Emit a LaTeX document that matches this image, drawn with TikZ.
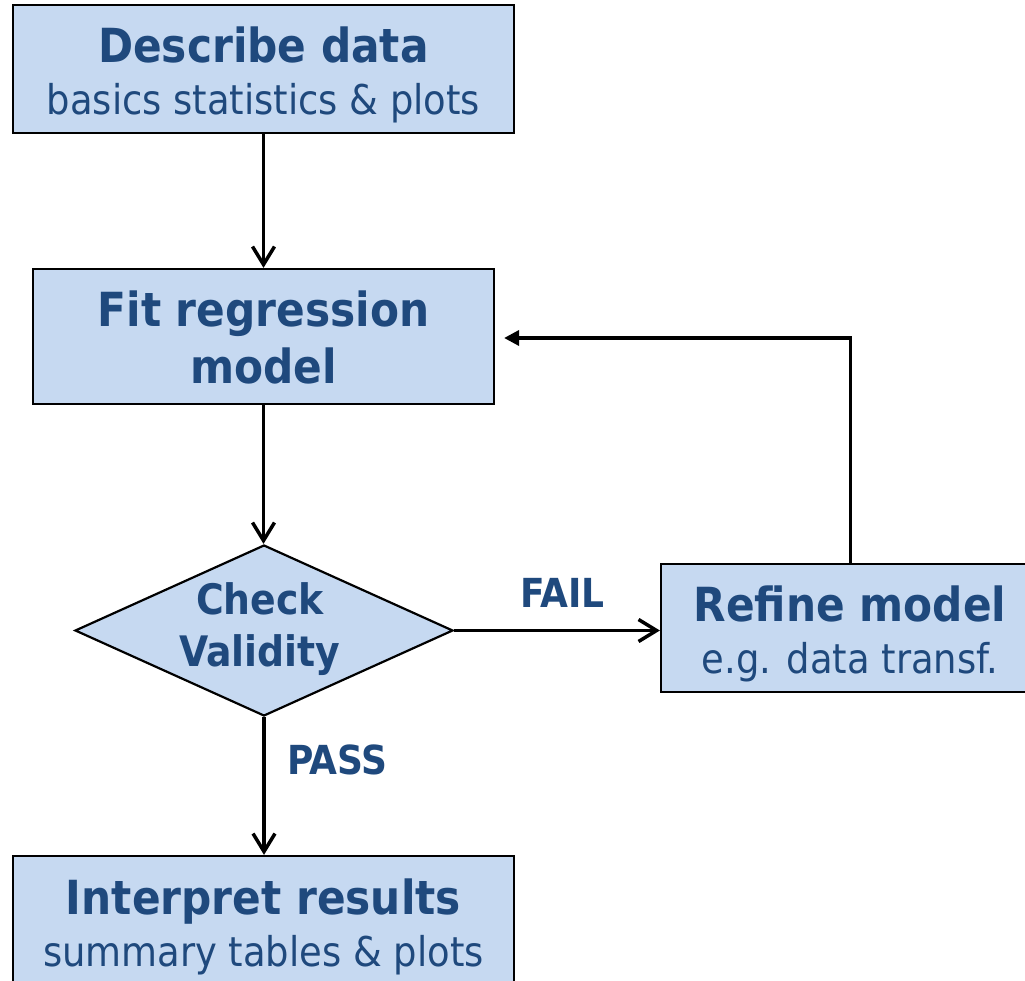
\documentclass[tikz,border=0pt]{standalone}
\usepackage{fontspec}
\usetikzlibrary{arrows.meta,shapes.geometric}
\newfontfamily\condfont{DejaVu Sans Condensed}
\definecolor{boxfill}{RGB}{198,217,241}
\definecolor{txtblue}{RGB}{31,73,125}
\tikzset{
  boxshape/.style={draw=black,line width=2.2pt,fill=boxfill,rectangle,inner sep=0pt},
  diashape/.style={draw=black,line width=2.2pt,fill=boxfill,diamond,inner sep=0pt},
  titletext/.style={anchor=base,inner sep=0pt,text=txtblue,font=\condfont\bfseries\fontsize{47}{50}\selectfont},
  subtext/.style={anchor=base,inner sep=0pt,text=txtblue,font=\condfont\fontsize{41}{44}\selectfont},
  labtext/.style={anchor=base,inner sep=0pt,text=txtblue,font=\condfont\bfseries\fontsize{40}{44}\selectfont},
  diatext/.style={anchor=base,inner sep=0pt,text=txtblue,font=\condfont\bfseries\fontsize{42}{46}\selectfont},
  openarrow/.style={line width=3.5pt,-{Straight Barb[length=18pt,width=22pt,line width=3.5pt]}},
  fillarrow/.style={line width=3.5pt,-{Triangle[length=15pt,width=15pt]}},
}
\begin{document}
\begin{tikzpicture}[x=1pt,y=-1pt]
\useasboundingbox (0,0) rectangle (1025,981);
\clip (0,0) rectangle (1025,981);
% boxes
\node[boxshape,minimum width=501pt,minimum height=128pt] (describe) at (263.5,69) {};
\node[boxshape,minimum width=461pt,minimum height=135pt] (fit) at (263.5,336.5) {};
\node[diashape,minimum width=378pt,minimum height=171pt] (diam) at (264,630.5) {};
\node[boxshape,minimum width=379pt,minimum height=128pt] (refine) at (850.5,628) {};
\node[boxshape,minimum width=501pt,minimum height=150pt] (interp) at (263.5,931) {};
% texts
\node[titletext] (t1) at (263.5,63) {Describe data};
\node[subtext] (s1) at (263.5,115) {basics statistics \& plots};
\node[titletext] (t2a) at (263.5,327) {Fit regression};
\node[titletext] (t2b) at (263.5,383) {model};
\node[diatext] (t3a) at (260,614) {Check};
\node[diatext] (t3b) at (260,666) {Validity};
\node[titletext] (t4) at (850,621) {Refine model};
\node[subtext] (s4) at (850,673) {e.g. data transf.};
\node[titletext] (t5) at (263.5,914) {Interpret results};
\node[subtext] (s5) at (263.5,966) {summary tables \& plots};
\node[labtext] (fail) at (562.5,607) {FAIL};
\node[labtext] (pass) at (337.5,774) {PASS};
% connectors
\draw[openarrow] (describe.south) -- (fit.north);
\draw[openarrow] (fit.south) -- (fit.south |- diam.north);
\draw[openarrow] (diam.east) -- (diam.east -| refine.west);
\draw[openarrow] (diam.south) -- (diam.south |- interp.north);
\coordinate (loopend) at ([yshift=-1.5pt]fit.east);
\draw[fillarrow,shorten >=9pt] (refine.north) |- (loopend);
\end{tikzpicture}
\end{document}
